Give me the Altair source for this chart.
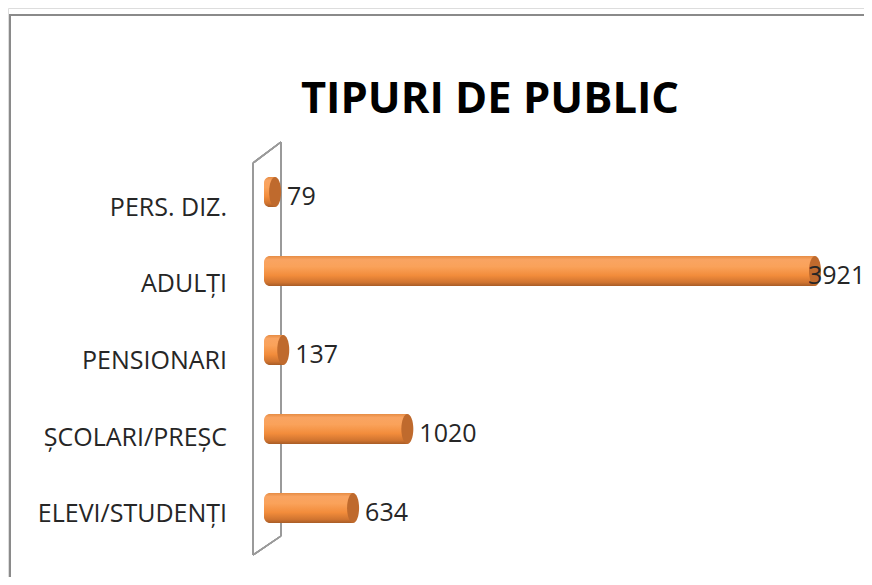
import altair as alt
import pandas as pd

categories = ["PERS. DIZ.", "ADULȚI", "PENSIONARI", "ȘCOLARI/PREȘC", "ELEVI/STUDENȚI"]
values = [79, 3921, 137, 1020, 634]
title_text = "TIPURI DE PUBLIC"

df = pd.DataFrame({"cat": categories, "val": values})

W, H = 856, 569
vmax = max(values)
xs = alt.Scale(domain=[0, vmax], range=[256, 807], zero=False, nice=False)
ys = alt.Scale(domain=categories, range=[144.5, 539.5], paddingInner=0, paddingOuter=0)
ys_lab = alt.Scale(domain=categories, range=[161.5, 544.5], paddingInner=0, paddingOuter=0)

Y = alt.Y("cat:N", scale=ys, axis=None, sort=categories)

base = alt.Chart(df)

frame = base.mark_rect(fill=None, stroke="#8a8a8a", strokeWidth=2).encode(
    x=alt.value(2), x2=alt.value(W + 4), y=alt.value(7), y2=alt.value(H + 4)
)

wall_col = "#9a9a9a"
wall = alt.layer(
    base.mark_rule(color=wall_col, strokeWidth=1.5).encode(
        x=alt.value(245), y=alt.value(155), x2=alt.value(273), y2=alt.value(134)),
    base.mark_rule(color=wall_col, strokeWidth=1.5).encode(
        x=alt.value(273), y=alt.value(134), x2=alt.value(273), y2=alt.value(528)),
    base.mark_rule(color=wall_col, strokeWidth=1.5).encode(
        x=alt.value(245), y=alt.value(155), x2=alt.value(245), y2=alt.value(547)),
    base.mark_rule(color=wall_col, strokeWidth=1.5).encode(
        x=alt.value(245), y=alt.value(547), x2=alt.value(273), y2=alt.value(528)),
)

grad = alt.Gradient(
    gradient="linear",
    x1=0, x2=0, y1=0, y2=1,
    stops=[
        alt.GradientStop(offset=0, color="#E68C44"),
        alt.GradientStop(offset=0.12, color="#F9A462"),
        alt.GradientStop(offset=0.35, color="#FAA25A"),
        alt.GradientStop(offset=0.65, color="#F28C3B"),
        alt.GradientStop(offset=0.88, color="#D07430"),
        alt.GradientStop(offset=1, color="#A85C26"),
    ],
)

bars = base.mark_bar(size=30, color=grad, cornerRadiusTopLeft=6, cornerRadiusBottomLeft=6).encode(
    x=alt.X("val:Q", scale=xs, axis=None),
    x2=alt.datum(0),
    y=Y,
)

ellipse = "M0,-1 A0.4,1 0 1,1 0,1 A0.4,1 0 1,1 0,-1 Z"
caps = base.mark_point(shape=ellipse, size=900, filled=True, color="#BF6A2D", opacity=1).encode(
    x=alt.X("val:Q", scale=xs, axis=None),
    y=Y,
)

bar_layer = alt.layer(bars, caps)

cat_labels = base.mark_text(
    align="right", baseline="middle", fontSize=25, font="Open Sans", color="#262626"
).encode(
    x=alt.value(219),
    y=alt.Y("cat:N", scale=ys_lab, axis=None, sort=categories),
    text="cat:N",
)

val_labels = base.mark_text(
    align="left", baseline="middle", fontSize=25, font="Open Sans", color="#262626", dx=12, dy=5
).encode(x=alt.X("val:Q", scale=xs, axis=None), y=Y, text="val:Q").transform_filter(
    alt.datum.val < vmax
)

val_labels_max = base.mark_text(
    align="left", baseline="middle", fontSize=25, font="Open Sans", color="#262626", dx=-7, dy=5
).encode(x=alt.X("val:Q", scale=xs, axis=None), y=Y, text="val:Q").transform_filter(
    alt.datum.val >= vmax
)

title = alt.Chart(pd.DataFrame({"t": [title_text]})).mark_text(
    align="center", baseline="alphabetic", fontSize=43.5, font="Open Sans", fontWeight="bold", color="#000000"
).encode(x=alt.value(482), y=alt.value(105), text="t:N")

chart = alt.layer(
    frame, wall, bar_layer, val_labels, val_labels_max, cat_labels, title
).resolve_scale(y="independent").properties(
    width=W, height=H, autosize=alt.AutoSizeParams(type="none"), padding=0
).configure_view(stroke=None).configure(background="white")

chart.save("out.html", embed_options={"renderer": "svg", "actions": False})
